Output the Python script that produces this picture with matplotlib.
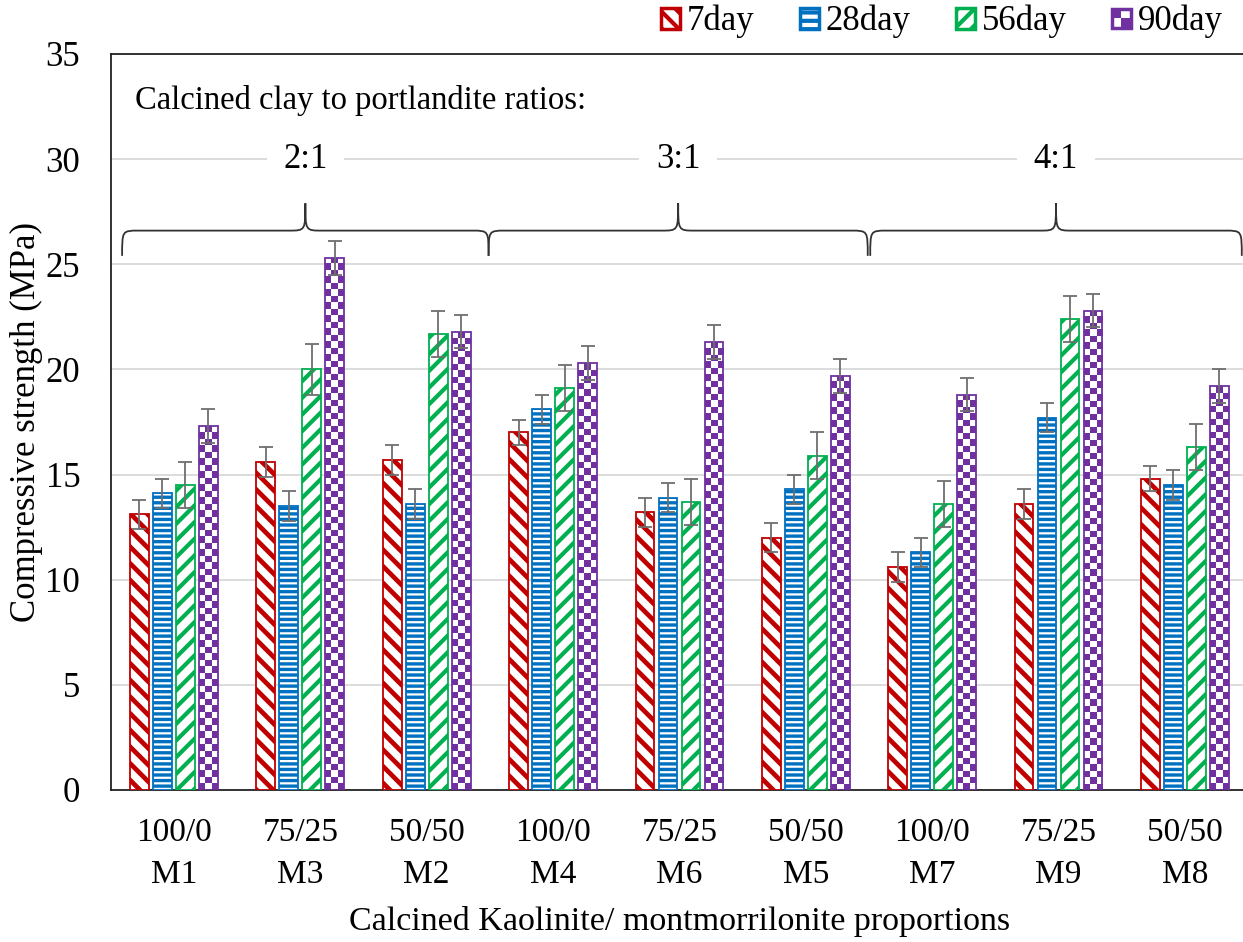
import numpy as np
import matplotlib
matplotlib.use("Agg")
import matplotlib.pyplot as plt
from matplotlib.patches import Rectangle, PathPatch
from matplotlib.path import Path
from matplotlib.colors import ListedColormap
from matplotlib.legend_handler import HandlerBase

plt.rcParams['font.family'] = ['Liberation Serif', 'DejaVu Serif']

# data
ratios = ["100/0", "75/25", "50/50", "100/0", "75/25", "50/50", "100/0", "75/25", "50/50"]
mixes = ["M1", "M3", "M2", "M4", "M6", "M5", "M7", "M9", "M8"]
ages = ["7day", "28day", "56day", "90day"]

day7 = [13.1, 15.6, 15.7, 17.0, 13.2, 12.0, 10.6, 13.6, 14.8]
day28 = [14.1, 13.5, 13.6, 18.1, 13.9, 14.3, 11.3, 17.7, 14.5]
day56 = [14.5, 20.0, 21.7, 19.1, 13.7, 15.9, 13.6, 22.4, 16.3]
day90 = [17.3, 25.3, 21.8, 20.3, 21.3, 19.7, 18.8, 22.8, 19.2]

err7 = [0.7, 0.7, 0.7, 0.6, 0.7, 0.7, 0.7, 0.7, 0.6]
err28 = [0.7, 0.7, 0.7, 0.7, 0.7, 0.7, 0.7, 0.7, 0.7]
err56 = [1.1, 1.2, 1.1, 1.1, 1.1, 1.1, 1.1, 1.1, 1.1]
err90 = [0.8, 0.8, 0.8, 0.8, 0.8, 0.8, 0.8, 0.8, 0.8]

ratio_groups = ["2:1", "3:1", "4:1"]
brace_spans = [(-0.41, 2.49), (2.49, 5.49), (5.51, 8.45)]

red = "#C00000"
blue = "#0070C0"
green = "#00B050"
purple = "#7030A0"

series = [day7, day28, day56, day90]
errors = [err7, err28, err56, err90]
colors = [red, blue, green, purple]
hatches = ["\\\\", "---", "//", None]
hatch_lw = [3.4, 2.4, 3.0, 1.0]

plt.rcParams['hatch.linewidth'] = 3.0

fig = plt.figure(figsize=(12.43, 9.42), dpi=100)
ax = fig.add_axes([0.0891, 0.1614, 0.915, 0.7813])

x = np.arange(len(mixes))
width = 0.148
step = 0.182
offsets = (np.arange(4) - 1.5) * step

for k in range(4):
    pos = x + offsets[k]
    if hatches[k] is not None:
        bars = ax.bar(pos, series[k], width, facecolor="white", edgecolor=colors[k],
                      hatch=hatches[k], linewidth=1.3, zorder=3)
        for b in bars:
            if hasattr(b, "set_hatch_linewidth"):
                b.set_hatch_linewidth(hatch_lw[k])
    else:
        bars = ax.bar(pos, series[k], width, facecolor="none", edgecolor=colors[k],
                      linewidth=1.3, zorder=3)
        cmap = ListedColormap(["white", purple])
        for b in bars:
            bx, bw, bh = b.get_x(), b.get_width(), b.get_height()
            nrows = max(1, int(round(bh / 0.31)))
            grid = (np.add.outer(np.arange(nrows), np.arange(3)) % 2).astype(float)
            im = ax.imshow(grid, extent=(bx, bx + bw, 0, bh), origin="upper", cmap=cmap,
                           interpolation="nearest", aspect="auto", zorder=2.5, vmin=0, vmax=1)
            im.set_clip_path(b)
    ax.errorbar(pos, series[k], yerr=errors[k], fmt="none", ecolor="#6E6E6E",
                elinewidth=1.3, capsize=5, capthick=1.3, zorder=4)

# braces for the ratio groups
yb, ym, yt = 25.4, 26.6, 27.9
r = 0.13
for (x0, x1), lab in zip(brace_spans, ratio_groups):
    xc = (x0 + x1) / 2
    verts = [(x0, yb), (x0, ym), (x0, ym), (x0 + r, ym),
             (xc - r, ym),
             (xc, ym), (xc, ym), (xc, yt),
             (xc, ym), (xc, ym), (xc + r, ym),
             (x1 - r, ym),
             (x1, ym), (x1, ym), (x1, yb)]
    codes = [Path.MOVETO, Path.CURVE4, Path.CURVE4, Path.CURVE4,
             Path.LINETO,
             Path.CURVE4, Path.CURVE4, Path.CURVE4,
             Path.CURVE4, Path.CURVE4, Path.CURVE4,
             Path.LINETO,
             Path.CURVE4, Path.CURVE4, Path.CURVE4]
    ax.add_patch(PathPatch(Path(verts, codes), facecolor="none", edgecolor="#333333",
                           linewidth=1.3, zorder=3))
    ax.text(xc, 30, lab, ha="center", va="center", fontsize=25, zorder=3,
            bbox=dict(facecolor="white", edgecolor="none", pad=12))

ax.text(-0.31, 32.8, "Calcined clay to portlandite ratios:", ha="left", va="center",
        fontsize=23.5, zorder=3)

ax.set_xlim(-0.5, 8.5)
ax.set_ylim(0, 35)
ax.set_yticks(np.arange(0, 36, 5))
ax.yaxis.grid(True, color="#D9D9D9", linewidth=1.3, zorder=0)
ax.set_axisbelow(True)
ax.set_xticks(x)
ax.set_xticklabels([f"{a}\n{b}" for a, b in zip(ratios, mixes)], fontsize=24, linespacing=1.5)
ax.tick_params(axis="y", labelsize=25, length=0, pad=22)
ax.tick_params(axis="x", length=0, pad=20)
for s in ["left", "top", "bottom"]:
    ax.spines[s].set_color("#222222")
    ax.spines[s].set_linewidth(1.3)
ax.spines["right"].set_visible(False)

ax.set_ylabel("Compressive strength (MPa)", fontsize=25, labelpad=2)
ax.set_xlabel("Calcined Kaolinite/ montmorrilonite proportions", fontsize=24.5, labelpad=11)


class CheckerHandler(HandlerBase):
    def create_artists(self, legend, orig_handle, xdescent, ydescent, width, height,
                       fontsize, trans):
        s = min(width, height)
        x0 = -xdescent + (width - s) / 2
        y0 = -ydescent + (height - s) / 2
        arts = [Rectangle((x0, y0), s, s, facecolor="white", edgecolor="none", transform=trans),
                Rectangle((x0, y0 + s / 2), s / 2, s / 2, facecolor=purple, edgecolor="none",
                          transform=trans),
                Rectangle((x0 + s / 2, y0), s / 2, s / 2, facecolor=purple, edgecolor="none",
                          transform=trans),
                Rectangle((x0, y0), s, s, facecolor="none", edgecolor=purple, linewidth=2.5,
                          transform=trans)]
        return arts


handles = []
leg_hatches = ["\\\\", "--", "//"]
for k in range(3):
    h = Rectangle((0, 0), 1, 1, facecolor="white", edgecolor=colors[k], hatch=leg_hatches[k],
                  linewidth=2.5)
    if hasattr(h, "set_hatch_linewidth"):
        h.set_hatch_linewidth(4.0)
    handles.append(h)
checker = Rectangle((0, 0), 1, 1, facecolor="white", edgecolor=purple)
handles.append(checker)

fig.legend(handles, ages, loc="upper right", bbox_to_anchor=(1.009, 1.028), ncol=4,
           frameon=False, fontsize=25, handlelength=0.55, handleheight=0.55,
           handletextpad=0.2, columnspacing=1.3, handler_map={checker: CheckerHandler()})

fig.savefig("out.png", dpi=100)
